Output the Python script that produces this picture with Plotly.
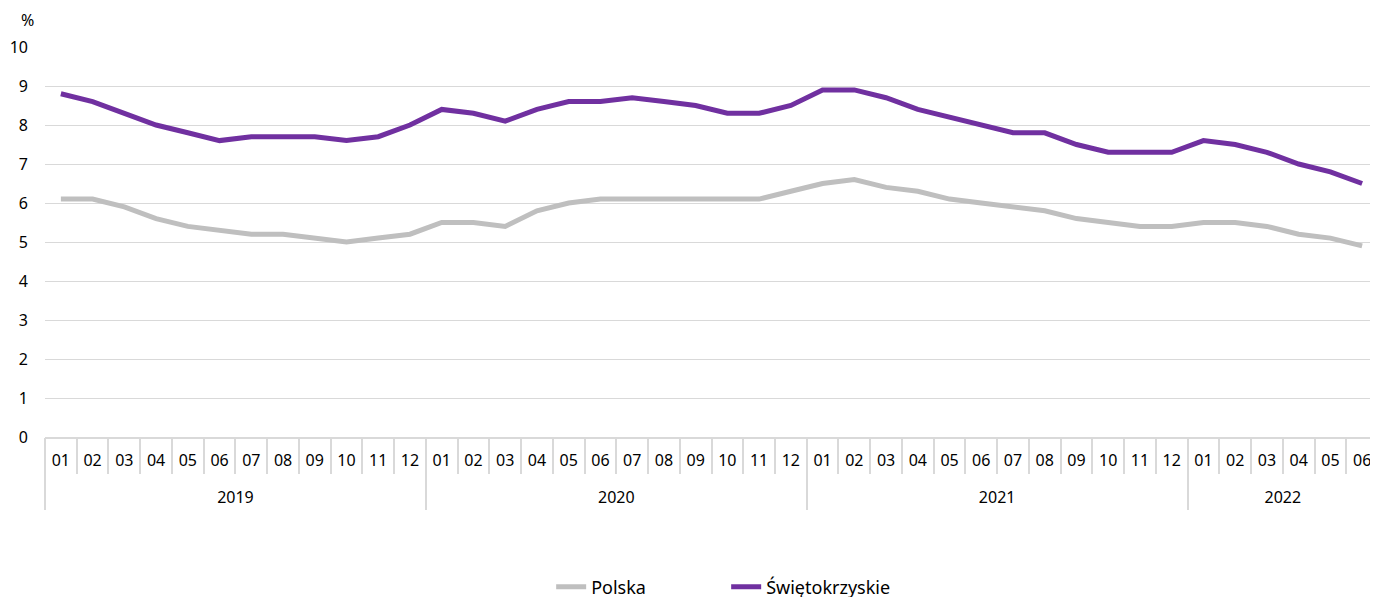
import plotly.graph_objects as go

years = ["2019"] * 12 + ["2020"] * 12 + ["2021"] * 12 + ["2022"] * 6
months = ["01", "02", "03", "04", "05", "06", "07", "08", "09", "10", "11", "12"] * 3 + ["01", "02", "03", "04", "05", "06"]

polska = [6.1, 6.1, 5.9, 5.6, 5.4, 5.3, 5.2, 5.2, 5.1, 5.0, 5.1, 5.2,
          5.5, 5.5, 5.4, 5.8, 6.0, 6.1, 6.1, 6.1, 6.1, 6.1, 6.1, 6.3,
          6.5, 6.6, 6.4, 6.3, 6.1, 6.0, 5.9, 5.8, 5.6, 5.5, 5.4, 5.4,
          5.5, 5.5, 5.4, 5.2, 5.1, 4.9]
swietokrzyskie = [8.8, 8.6, 8.3, 8.0, 7.8, 7.6, 7.7, 7.7, 7.7, 7.6, 7.7, 8.0,
                  8.4, 8.3, 8.1, 8.4, 8.6, 8.6, 8.7, 8.6, 8.5, 8.3, 8.3, 8.5,
                  8.9, 8.9, 8.7, 8.4, 8.2, 8.0, 7.8, 7.8, 7.5, 7.3, 7.3, 7.3,
                  7.6, 7.5, 7.3, 7.0, 6.8, 6.5]

FONT = "Noto Sans"
GRID = "#d9d9d9"

idx = list(range(len(months)))
year_names = list(dict.fromkeys(years))
year_centers = [sum(i for i in idx if years[i] == y) / years.count(y) for y in year_names]
xr = [-0.5, len(months) - 0.5]

fig = go.Figure()
fig.add_trace(go.Scatter(x=idx, y=polska, name="Polska", mode="lines",
                         line=dict(color="#bfbfbf", width=5)))
fig.add_trace(go.Scatter(x=idx, y=swietokrzyskie, name="Świętokrzyskie", mode="lines",
                         line=dict(color="#7030a0", width=5)))

fig.update_layout(
    width=1370, height=589,
    margin=dict(l=37, r=0, t=39, b=160, autoexpand=False),
    plot_bgcolor="white", paper_bgcolor="white",
    font=dict(family=FONT, size=16, color="#000000"),
    showlegend=True,
    legend=dict(orientation="h", x=0.511, xanchor="center", yref="container", y=0.017, yanchor="middle",
                font=dict(family=FONT, size=18, color="#000000"),
                entrywidth=130, entrywidthmode="pixels",
                traceorder="normal"),
    xaxis=dict(range=xr, automargin=False, showgrid=False, zeroline=False,
               showline=True, linecolor=GRID, linewidth=2,
               tickmode="array", tickvals=idx, ticktext=months, ticks="",
               ticklabelstandoff=8,
               minor=dict(tickmode="linear", tick0=-0.5, dtick=1, ticks="outside", ticklen=35,
                          tickcolor=GRID, tickwidth=2, showgrid=False),
               tickfont=dict(family=FONT, size=16, color="#000000")),
    xaxis2=dict(range=xr, overlaying="x", side="bottom", anchor="y", automargin=False,
                showgrid=False, zeroline=False, showline=False,
                tickmode="array", tickvals=year_centers, ticktext=year_names, ticks="",
                ticklabelstandoff=49,
                minor=dict(tickmode="linear", tick0=-0.5, dtick=12, ticks="outside", ticklen=72,
                           tickcolor=GRID, tickwidth=2, showgrid=False),
                tickfont=dict(family=FONT, size=16, color="#000000")),
    yaxis=dict(range=[0, 10], dtick=1, showgrid=True, gridcolor=GRID, gridwidth=1, automargin=False,
               zeroline=False, showline=False, ticks="", ticklabelstandoff=16,
               tickfont=dict(family=FONT, size=16, color="#000000")),
)
# invisible helper trace to activate the year axis
fig.add_trace(go.Scatter(x=year_centers, y=[None] * len(year_centers), xaxis="x2", yaxis="y",
                         showlegend=False, hoverinfo="skip", mode="lines"))
fig.add_annotation(text="%", xref="paper", yref="paper", x=-0.0135, y=1.069,
                   showarrow=False, xanchor="center", yanchor="middle",
                   font=dict(family=FONT, size=16, color="#000000"))

fig.write_html("out.html")
